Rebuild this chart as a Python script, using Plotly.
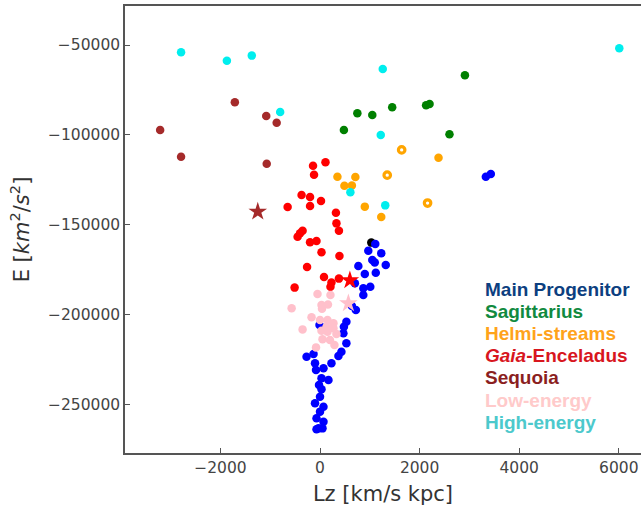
import plotly.graph_objects as go

# ---- data (Lz [km/s kpc], E [km^2/s^2]) ----
main_lz = [1110, 1100, 970, 1230, 1050, 1320, 770, 1120, 900, 700, 870, 1010, 870, 640, 720,
           530, 480, 470, 530, 430, 370, -130, -270, -10, -100, 230, 70, -80, 170, 30, -20,
           30, 0, -100, 70, 0, -70, 70, -30, 50, -70, 3330, 3430]
main_e = [-160600, -170800, -164300, -165700, -169500, -172200, -172800, -176500, -177200, -182400,
          -185200, -184300, -188900, -195000, -197200, -203700, -206500, -210200, -215700, -220400,
          -222800, -221700, -223200, -205600, -226800, -226800, -229600, -230600, -236100, -235200,
          -238900, -241300, -245400, -249100, -251000, -253700, -257400, -259300, -263000, -263000,
          -263500, -123200, -121700]
black_lz = [1030]
black_e = [-159800]

sgr_lz = [2910, 1450, 2130, 2200, 1050, 750, 480, 2600]
sgr_e = [-66800, -84600, -83500, -82800, -88900, -87900, -97200, -99600]

helmi_lz = [350, 710, 490, 640, 900, 1230, 2380]
helmi_e = [-123200, -123300, -128200, -128100, -139800, -145600, -112600]
helmi_open_lz = [1640, 1350, 2160]
helmi_open_e = [-108300, -122300, -137800]

ge_lz = [-140, 110, -120, -370, -200, 20, -650, -200, 320, 330, 380, -350, -400, -450, -200, -70,
         30, 390, -260, 80, 230, 380, 210, -510]
ge_e = [-117100, -115200, -122100, -133300, -134500, -136700, -140000, -139500, -143200, -149100,
        -153200, -153200, -154600, -156500, -159600, -158900, -165200, -167200, -173300, -178900,
        -182000, -179800, -184300, -184800]
ge_star_lz = [600]
ge_star_e = [-180700]

seq_lz = [-3210, -2790, -1710, -1080, -870, -1070]
seq_e = [-97200, -112100, -81800, -89400, -93200, -116000]
seq_star_lz = [-1250]
seq_star_e = [-142600]

low_lz = [-50, 210, 30, 160, -570, 40, -170, 0, 150, 270, 130, 270, -350, 30, 150, 330, 50, 200,
          290, -80]
low_e = [-188300, -188900, -194400, -194200, -196300, -196500, -201300, -202800, -202800, -204600,
         -206500, -207400, -208000, -208700, -209300, -210600, -213500, -213900, -216700, -218000]
low_star_lz = [570]
low_star_e = [-193500]

high_lz = [-2790, -1870, -1370, -800, 610, 1260, 1220, 6010, 1310]
high_e = [-54000, -58700, -55900, -87200, -131800, -63300, -100000, -51800, -139100]

x_ticks = [-2000, 0, 2000, 4000, 6000]
y_ticks = [-50000, -100000, -150000, -200000, -250000]

legend_labels = ["Main Progenitor", "Sagittarius", "Helmi-streams", "<i>Gaia</i>-Enceladus",
                 "Sequoia", "Low-energy", "High-energy"]
legend_colors = ["#0d3f80", "#118a40", "#ffa31a", "#d8161e", "#8b1f1f", "#ffcaca", "#4cc9cc"]

# ---- styles ----
BLUE = "#0000ff"
GREEN = "#008000"
ORANGE = "#ffa500"
RED = "#ff0000"
BROWN = "#a52a2a"
PINK = "#ffc0cb"
CYAN = "#00eeee"
DOT = 8.5
STAR = 14

fig = go.Figure()

def dots(x, y, color, size=DOT, symbol="circle"):
    fig.add_trace(go.Scatter(x=x, y=y, mode="markers", showlegend=False, hoverinfo="skip",
                             marker=dict(color=color, size=size, symbol=symbol,
                                         line=dict(width=0))))

dots(black_lz, black_e, "#000000")
dots(main_lz, main_e, BLUE)
dots(sgr_lz, sgr_e, GREEN)
dots(helmi_lz, helmi_e, ORANGE)
fig.add_trace(go.Scatter(x=helmi_open_lz, y=helmi_open_e, mode="markers", showlegend=False,
                         hoverinfo="skip",
                         marker=dict(color="white", size=6.5, symbol="circle",
                                     line=dict(width=3.2, color=ORANGE))))
dots(ge_lz, ge_e, RED)
dots(seq_lz, seq_e, BROWN)
dots(low_lz, low_e, PINK)
dots(high_lz, high_e, CYAN)
dots(ge_star_lz, ge_star_e, RED, STAR, "star")
dots(seq_star_lz, seq_star_e, BROWN, STAR, "star")
dots(low_star_lz, low_star_e, PINK, STAR, "star")

W, H = 641, 507
ML, MR, MT, MB = 125, 0, 6, 54

annotations = []
for i, (lab, col) in enumerate(zip(legend_labels, legend_colors)):
    ypix = 289 + 22.2 * i
    annotations.append(dict(
        text="<b>" + lab + "</b>", x=(483 - ML) / (W - ML - MR), y=(H - MB - ypix) / (H - MB - MT),
        xref="paper", yref="paper", xanchor="left", yanchor="middle", showarrow=False,
        font=dict(family="Liberation Sans, Arial, sans-serif", size=19, color=col)))

axis_font = dict(family="DejaVu Sans, sans-serif", size=15.5, color="#444444")
fig.update_layout(
    width=W, height=H,
    margin=dict(l=ML, r=MR, t=MT, b=MB, pad=0),
    paper_bgcolor="white", plot_bgcolor="white",
    annotations=annotations,
    xaxis=dict(range=[-3916, 6446], tickvals=x_ticks,
               ticktext=[("\u2212" + str(abs(v))) if v < 0 else str(v) for v in x_ticks],
               showgrid=False, zeroline=False, showline=True, mirror=True,
               linecolor="#555555", linewidth=1.5, ticks="inside", ticklen=5,
               tickcolor="#555555", tickfont=axis_font,
               title=dict(text="Lz [km/s kpc]", standoff=10,
                          font=dict(family="DejaVu Sans, sans-serif", size=21, color="#333333"))),
    yaxis=dict(range=[-276685, -28332], tickvals=y_ticks,
               ticktext=["\u2212" + str(abs(v)) for v in y_ticks],
               showgrid=False, zeroline=False, showline=True, mirror=False,
               linecolor="#555555", linewidth=1.5, ticks="inside", ticklen=5,
               tickcolor="#555555", tickfont=axis_font,
               title=dict(text="E [<i>km</i><sup>2</sup>/<i>s</i><sup>2</sup>]", standoff=13,
                          font=dict(family="DejaVu Sans, sans-serif", size=21, color="#333333"))),
)

fig.write_html("out.html", config={"displayModeBar": False},
               post_script="document.body.style.margin='0';document.body.style.overflow='hidden';")
